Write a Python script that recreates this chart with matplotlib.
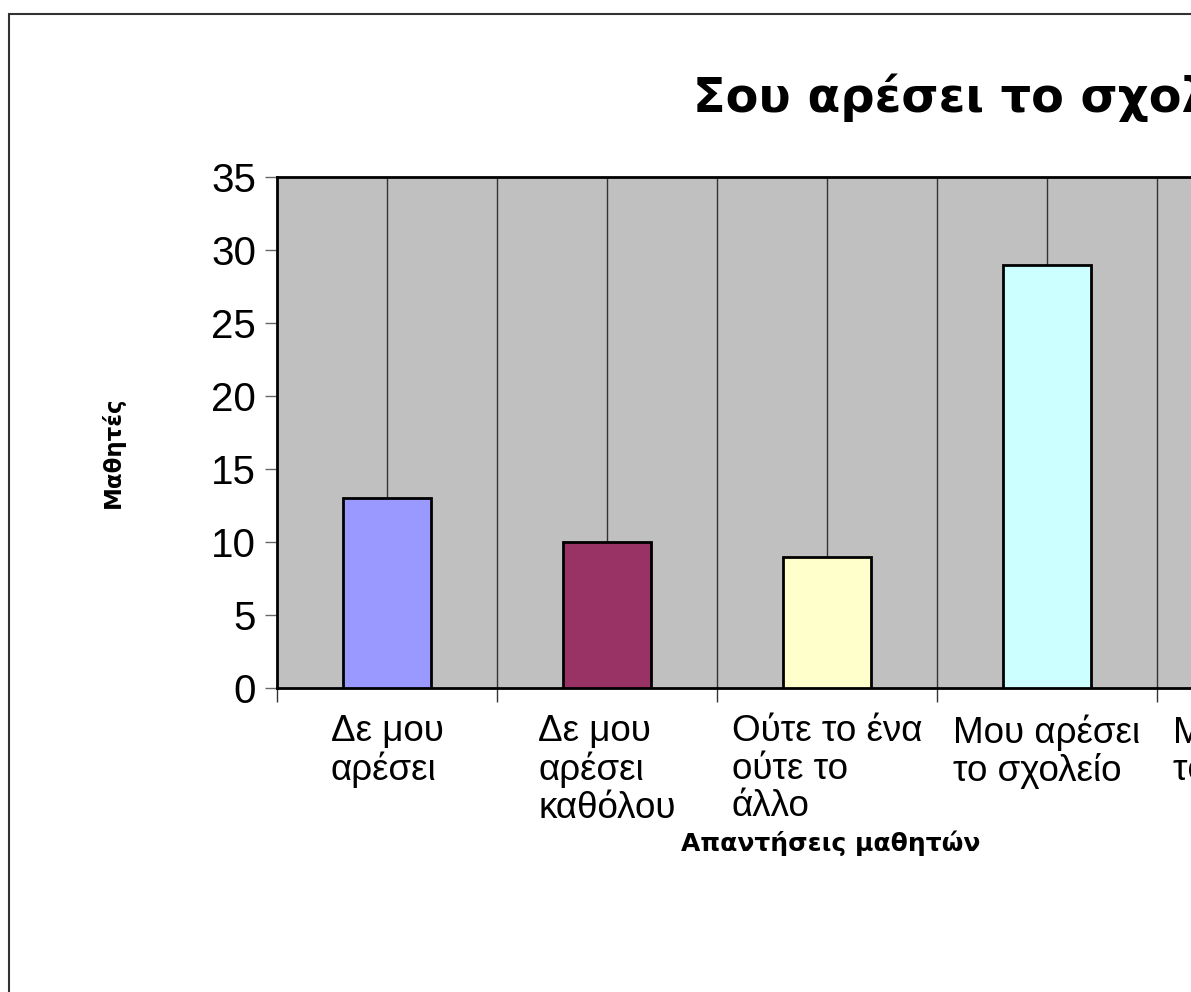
import matplotlib
matplotlib.use('Agg')
import matplotlib.pyplot as plt
from matplotlib.patches import Rectangle

# Donnees du graphique
categories = ['Δε μου\nαρέσει', 'Δε μου\nαρέσει\nκαθόλου', 'Ούτε το ένα\nούτε το\nάλλο',
              'Μου αρέσει\nτο σχολείο', 'Μου αρέσει\nτόσο πολύ']
valeurs = [13, 10, 9, 29, 20]
couleurs = ['#9999FF', '#993366', '#FFFFCC', '#CCFFFF', '#660066']
yticks = [0, 5, 10, 15, 20, 25, 30, 35]

titre = 'Σου αρέσει το σχολείο;'
label_y = 'Μαθητές'
label_x = 'Απαντήσεις μαθητών'

W, H = 1191, 992
fig = plt.figure(figsize=(W / 100, H / 100), dpi=100)
fig.patch.set_facecolor('white')

# Cadre exterieur du graphique (coupe a droite et en bas)
fig.add_artist(Rectangle((9 / W, -0.05), 1.2, (H - 14) / H + 0.05,
                         transform=fig.transFigure, fill=False,
                         edgecolor='#333333', lw=1.5))

# Zone de trace : 220 px par categorie, elle deborde a droite
ax = fig.add_axes([277 / W, (H - 688) / H, 5 * 220 / W, 511 / H])
ax.set_facecolor('#C0C0C0')
ax.set_axisbelow(True)

x = range(len(valeurs))
ax.bar(x, valeurs, width=0.4, color=couleurs, edgecolor='black', lw=2, zorder=3)

ax.set_xlim(-0.5, len(valeurs) - 0.5)
ax.set_ylim(0, 35)

# Graduations majeures aux frontieres, mineures au centre (avec les noms)
ax.set_xticks([i - 0.5 for i in range(len(valeurs) + 1)])
ax.set_xticklabels([])
ax.set_xticks(list(x), categories, minor=True)
ax.tick_params(axis='x', which='major', direction='out', length=10,
               width=1, color='#333333')
ax.tick_params(axis='x', which='minor', length=0, pad=19,
               labelsize=26.5)
for lab in ax.get_xticklabels(minor=True):
    lab.set_fontfamily('Liberation Sans')
    lab.set_multialignment('left')
    lab.set_linespacing(1.09)
ax.grid(axis='x', which='both', color='#333333', lw=1)

ax.set_yticks(yticks)
ax.tick_params(axis='y', direction='out', length=9, width=1,
               color='#666666', labelsize=29, pad=6)
for lab in ax.get_yticklabels():
    lab.set_fontfamily('Liberation Sans')

for s in ['top', 'left', 'bottom']:
    ax.spines[s].set_linewidth(2)
    ax.spines[s].set_color('black')
ax.spines['right'].set_visible(False)

# Titres
fig.text(693 / W, 1 - 112 / H, titre, fontsize=34.5, fontweight='bold',
         family='DejaVu Sans', ha='left', va='baseline')
fig.text(113 / W, 1 - 452 / H, label_y, rotation=90, fontsize=16.5,
         fontweight='bold', family='DejaVu Sans', ha='center', va='center')
fig.text(831 / W, 1 - 843 / H, label_x, fontsize=18, fontweight='bold',
         family='DejaVu Sans', ha='center', va='center')

fig.savefig('out.png', dpi=100)
